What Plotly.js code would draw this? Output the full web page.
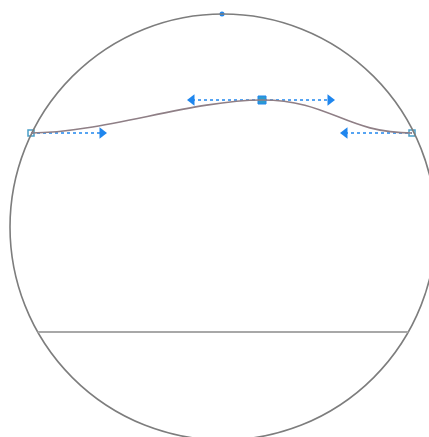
<!DOCTYPE html>
<html><head><meta charset="utf-8">
<script src="https://cdn.plot.ly/plotly-3.0.1.min.js"></script>
<style>html,body{margin:0;padding:0;background:#fff}#plot{width:429px;height:437px}</style>
</head><body><div id="plot"></div>
<script>
// Geometry (pixel-like data units, y down)
var circleCenter = [223, 227];
var circleRadius = 213;
var chordY = 332;
var curveStart = [31, 133];
var curveMid = [262, 100];
var curveEnd = [412, 133];
var startHandle = [102, 133];
var midHandleIn = [192, 100];
var midHandleOut = [330, 100];
var endHandle = [345, 133];
var topNode = [222, 14];

var blue = '#1f86ee';
var lineGray = '#7d7d7d';
var mauve = '#8f7f86';

var cx = circleCenter[0], cy = circleCenter[1], r = circleRadius;
var chordHalf = Math.sqrt(r*r - (chordY-cy)*(chordY-cy));

function pt(p){return p[0]+','+p[1];}
var bezierPath = 'M' + pt(curveStart) + ' C' + pt(startHandle) + ' ' + pt(midHandleIn) + ' ' + pt(curveMid) +
  ' C' + pt(midHandleOut) + ' ' + pt(endHandle) + ' ' + pt(curveEnd);

var shapes = [
  {type:'circle', xref:'x', yref:'y', x0:cx-r, x1:cx+r, y0:cy-r, y1:cy+r, line:{color:lineGray, width:1.6}},
  {type:'line', xref:'x', yref:'y', x0:cx-chordHalf, x1:cx+chordHalf, y0:chordY, y1:chordY, line:{color:'#a8a8a8', width:2}},
  {type:'path', xref:'x', yref:'y', path:bezierPath, line:{color:mauve, width:1.6}}
];

var traces = [
  // handle lines (dotted)
  {x:[curveStart[0], startHandle[0]], y:[curveStart[1], startHandle[1]], mode:'lines', line:{color:blue, width:1.5, dash:'dot'}},
  {x:[midHandleIn[0], midHandleOut[0]], y:[midHandleIn[1], midHandleOut[1]], mode:'lines', line:{color:blue, width:1.5, dash:'dot'}},
  {x:[endHandle[0], curveEnd[0]], y:[endHandle[1], curveEnd[1]], mode:'lines', line:{color:blue, width:1.5, dash:'dot'}},
  // arrow heads
  {x:[startHandle[0], midHandleOut[0]], y:[startHandle[1], midHandleOut[1]], mode:'markers', marker:{symbol:'triangle-right', size:10, color:blue}},
  {x:[midHandleIn[0], endHandle[0]], y:[midHandleIn[1], endHandle[1]], mode:'markers', marker:{symbol:'triangle-left', size:10, color:blue}},
  // nodes
  {x:[curveMid[0]], y:[curveMid[1]], mode:'markers', marker:{symbol:'square', size:8, color:'#2c9bd0', line:{color:blue, width:1}}},
  {x:[curveStart[0], curveEnd[0]], y:[curveStart[1], curveEnd[1]], mode:'markers', marker:{symbol:'square-open', size:6, color:'#4a9ec8', line:{width:1.5}}},
  {x:[topNode[0]], y:[topNode[1]], mode:'markers', marker:{symbol:'circle', size:5, color:blue}}
];

var layout = {
  width:429, height:437, margin:{l:0,r:0,t:0,b:0},
  paper_bgcolor:'#ffffff', plot_bgcolor:'#ffffff', showlegend:false,
  xaxis:{range:[0,429], visible:false, fixedrange:true},
  yaxis:{range:[437,0], visible:false, fixedrange:true},
  shapes:shapes
};
Plotly.newPlot('plot', traces, layout, {staticPlot:true, displayModeBar:false});
</script></body></html>
